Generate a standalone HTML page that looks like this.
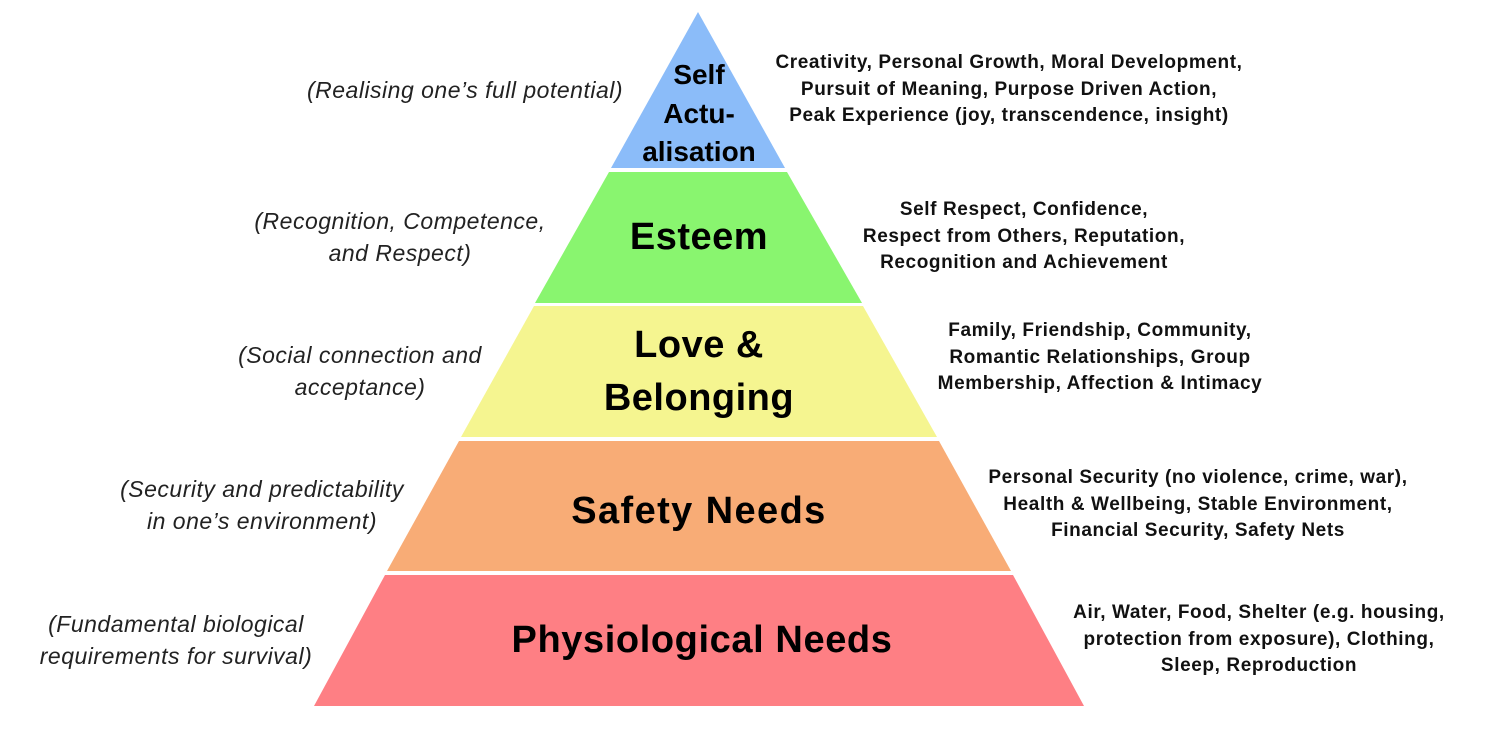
<!DOCTYPE html>
<html><head><meta charset="utf-8"><style>
html,body{margin:0;padding:0;background:#fff;}
body{width:1504px;height:734px;position:relative;overflow:hidden;font-family:"Liberation Sans",sans-serif;}
svg{position:absolute;left:0;top:0;}
.l{position:absolute;font-style:italic;font-size:23px;letter-spacing:0.5px;color:#222;text-align:center;line-height:32px;white-space:nowrap;}
.r{position:absolute;font-weight:bold;font-size:19px;letter-spacing:0.6px;color:#111;text-align:center;line-height:26.5px;white-space:nowrap;}
</style></head><body>
<svg width="1504" height="734" font-family="Liberation Sans, sans-serif" font-weight="bold" text-anchor="middle" fill="#000">
<polygon points="698,12 785,168 611,168" fill="#8bbcf9"/>
<polygon points="609,172 787,172 862,303 535,303" fill="#89f56f"/>
<polygon points="534,306 863,306 937,437 461,437" fill="#f5f590"/>
<polygon points="459,441 939,441 1011,571 387,571" fill="#f8ac76"/>
<polygon points="385,575 1013,575 1084,706 314,706" fill="#fe7f84"/>
<text x="699" y="84" font-size="28">Self</text>
<text x="699" y="123" font-size="28">Actu-</text>
<text x="699" y="161" font-size="28">alisation</text>
<text x="699" y="249" font-size="38" letter-spacing="0.5">Esteem</text>
<text x="699" y="357" font-size="38" letter-spacing="0.5">Love &amp;</text>
<text x="699" y="410" font-size="38" letter-spacing="0.5">Belonging</text>
<text x="699" y="523" font-size="38" letter-spacing="1.4">Safety Needs</text>
<text x="702" y="652" font-size="38" letter-spacing="0.6">Physiological Needs</text>
</svg>
<div class="l" style="left:290px;top:74px;width:350px;">(Realising one’s full potential)</div>
<div class="l" style="left:230px;top:205px;width:340px;">(Recognition, Competence,<br>and Respect)</div>
<div class="l" style="left:190px;top:339px;width:340px;">(Social connection and<br>acceptance)</div>
<div class="l" style="left:92px;top:473px;width:340px;">(Security and predictability<br>in one’s environment)</div>
<div class="l" style="left:11px;top:608px;width:330px;">(Fundamental biological<br>requirements for survival)</div>
<div class="r" style="left:759px;top:50px;width:500px;">Creativity, Personal Growth, Moral Development,<br>Pursuit of Meaning, Purpose Driven Action,<br>Peak Experience (joy, transcendence, insight)</div>
<div class="r" style="left:824px;top:197px;width:400px;">Self Respect, Confidence,<br>Respect from Others, Reputation,<br>Recognition and Achievement</div>
<div class="r" style="left:900px;top:318px;width:400px;">Family, Friendship, Community,<br>Romantic Relationships, Group<br>Membership, Affection &amp; Intimacy</div>
<div class="r" style="left:963px;top:465px;width:470px;">Personal Security (no violence, crime, war),<br>Health &amp; Wellbeing, Stable Environment,<br>Financial Security, Safety Nets</div>
<div class="r" style="left:1039px;top:600px;width:440px;">Air, Water, Food, Shelter (e.g. housing,<br>protection from exposure), Clothing,<br>Sleep, Reproduction</div>
</body></html>
